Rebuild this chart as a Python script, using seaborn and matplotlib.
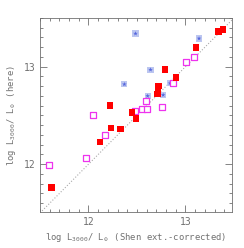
import numpy as np
import pandas as pd
import seaborn as sns
import matplotlib.pyplot as plt
from matplotlib.ticker import MultipleLocator

# red filled squares
red_x = [11.62, 12.12, 12.22, 12.23, 12.33, 12.45, 12.49, 12.71, 12.715, 12.72, 12.79, 12.90, 13.11, 13.34, 13.385]
red_y = [11.76, 12.23, 12.60, 12.37, 12.36, 12.53, 12.47, 12.72, 12.78, 12.80, 12.97, 12.89, 13.20, 13.36, 13.38]

# magenta open squares
mag_x = [11.595, 11.97, 12.05, 12.17, 12.48, 12.55, 12.59, 12.60, 12.76, 12.87, 13.01, 13.09]
mag_y = [11.99, 12.06, 12.51, 12.30, 12.55, 12.57, 12.65, 12.565, 12.59, 12.83, 13.05, 13.10]

# blue asterisks
blu_x = [12.485, 12.37, 12.64, 12.61, 12.77, 12.84, 13.14]
blu_y = [13.34, 12.82, 12.97, 12.70, 12.71, 12.83, 13.29]

df = pd.concat([
    pd.DataFrame({"x": red_x, "y": red_y, "grp": "red"}),
    pd.DataFrame({"x": mag_x, "y": mag_y, "grp": "mag"}),
    pd.DataFrame({"x": blu_x, "y": blu_y, "grp": "blu"}),
])

sns.set_style("ticks")
plt.rcParams['font.family'] = ['DejaVu Sans Mono']
plt.rcParams['mathtext.fontset'] = 'custom'
plt.rcParams['mathtext.rm'] = 'DejaVu Sans Mono'
plt.rcParams['mathtext.it'] = 'DejaVu Sans Mono'
gray = "#707070"

fig = plt.figure(figsize=(2.44, 2.48), dpi=100)
ax = fig.add_axes([40 / 244, 36 / 248, 192 / 244, 194 / 248])

ax.plot([11.5, 13.5], [11.5, 13.5], ls=":", color="#aaaaaa", lw=0.8, zorder=1)

d = df[df.grp == "blu"]
sns.scatterplot(data=d, x="x", y="y", marker="s", s=20, color="#bcc6f0", edgecolor="none", ax=ax, zorder=2)
sns.scatterplot(data=d, x="x", y="y", marker="*", s=12, color="#5566dd", edgecolor="none", ax=ax, zorder=3)
d = df[df.grp == "mag"]
sns.scatterplot(data=d, x="x", y="y", marker="s", s=16, facecolor="white", edgecolor="#ee33ee", linewidth=0.9, ax=ax, zorder=3)
d = df[df.grp == "red"]
sns.scatterplot(data=d, x="x", y="y", marker="s", s=22, color="#ff0000", edgecolor="none", ax=ax, zorder=4)

ax.set_xlim(11.5, 13.48)
ax.set_ylim(11.51, 13.5)
ax.xaxis.set_major_locator(MultipleLocator(1))
ax.yaxis.set_major_locator(MultipleLocator(1))
ax.xaxis.set_minor_locator(MultipleLocator(0.1))
ax.yaxis.set_minor_locator(MultipleLocator(0.1))
ax.tick_params(which="both", direction="in", top=True, right=True, colors=gray, labelsize=7)
ax.tick_params(which="major", length=5, width=0.6)
ax.tick_params(which="minor", length=2.5, width=0.6)
for sp in ax.spines.values():
    sp.set_color(gray)
    sp.set_linewidth(0.6)

ax.set_xlabel(r"log L$_{3000}$/ L$_\odot$ (Shen ext.-corrected)", fontsize=6.4, color=gray, labelpad=3)
ax.set_ylabel(r"log L$_{3000}$/ L$_\odot$ (here)", fontsize=6.4, color=gray, labelpad=4)

fig.savefig("out.png", dpi=100)
